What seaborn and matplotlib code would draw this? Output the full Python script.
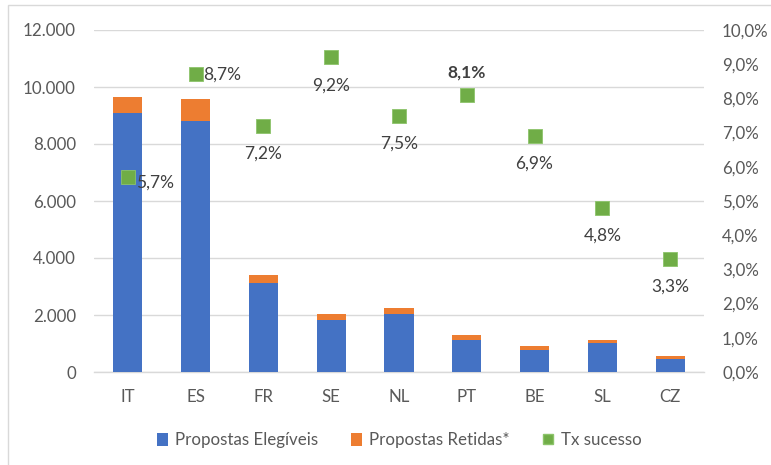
import matplotlib
matplotlib.use("Agg")
import matplotlib.pyplot as plt
import matplotlib.ticker as mticker
from matplotlib.patches import Patch, Rectangle
from matplotlib.lines import Line2D
import seaborn as sns
import pandas as pd

# Data
paises = ["IT", "ES", "FR", "SE", "NL", "PT", "BE", "SL", "CZ"]
elegiveis = [9080, 8800, 3130, 1830, 2035, 1135, 785, 1020, 445]
retidas = [560, 780, 260, 205, 220, 165, 125, 105, 125]
tx_sucesso = [5.7, 8.7, 7.2, 9.2, 7.5, 8.1, 6.9, 4.8, 3.3]
pos_rotulo = ["right", "right", "below", "below", "below", "above", "below", "below", "below"]

AZUL = "#4472C4"
LARANJA = "#ED7D31"
VERDE = "#70AD47"
TEXTO = "#595959"
GRELHA = "#D9D9D9"

sns.set_theme(style="white")
plt.rcParams["font.family"] = ["Lato", "DejaVu Sans"]

df = pd.DataFrame({
    "pais": paises,
    "elegiveis": elegiveis,
    "total": [e + r for e, r in zip(elegiveis, retidas)],
    "tx": tx_sucesso,
})

fig = plt.figure(figsize=(7.71, 4.65), dpi=100)
ax = fig.add_axes([94 / 771, 93 / 465, 610 / 771, 342 / 465])

# Stacked bars: total (orange) behind, eligible (blue) in front
sns.barplot(data=df, x="pais", y="total", color=LARANJA, saturation=1,
            width=0.43, linewidth=0, ax=ax, zorder=2)
sns.barplot(data=df, x="pais", y="elegiveis", color=AZUL, saturation=1,
            width=0.43, linewidth=0, ax=ax, zorder=3)

ax.set_ylim(0, 12000)
ax.set_yticks(range(0, 12001, 2000))
ax.yaxis.set_major_formatter(
    mticker.FuncFormatter(lambda v, p: f"{int(v):,}".replace(",", ".")))
ax.set_xlim(-0.5, len(paises) - 0.5)
ax.set_xlabel("")
ax.set_ylabel("")
ax.grid(axis="y", color=GRELHA, linewidth=1.0, zorder=0)
ax.set_axisbelow(True)
for s in ["top", "right", "left"]:
    ax.spines[s].set_visible(False)
ax.spines["bottom"].set_color(GRELHA)
ax.spines["bottom"].set_linewidth(1.0)
ax.tick_params(axis="both", length=0, colors=TEXTO, labelsize=12.2)
ax.tick_params(axis="x", pad=12)
ax.tick_params(axis="y", pad=13)

# Success rate on secondary axis
ax2 = ax.twinx()
sns.scatterplot(data=df, x="pais", y="tx", marker="s", s=90, color=VERDE,
                edgecolor="#8CC46A", linewidth=0.6, ax=ax2, zorder=5, legend=False)
ax2.set_ylim(0, 10)
ax2.set_yticks(range(0, 11))
ax2.yaxis.set_major_formatter(
    mticker.FuncFormatter(lambda v, p: f"{v:.1f}%".replace(".", ",")))
ax2.set_ylabel("")
for s in ax2.spines.values():
    s.set_visible(False)
ax2.tick_params(axis="y", length=0, colors=TEXTO, labelsize=12.2, pad=13)

offsets = {
    "right": ((5.5, 0), "left", "center"),
    "below": ((0, -20), "center", "center"),
    "above": ((0, 16.5), "center", "center"),
}
for i, (v, pos) in enumerate(zip(tx_sucesso, pos_rotulo)):
    (dx, dy), ha, va = offsets[pos]
    if i == 0:
        dy = -4
    ax2.annotate(f"{v:.1f}%".replace(".", ","), (i, v), xytext=(dx, dy),
                 textcoords="offset points", ha=ha, va=va, fontsize=12.5,
                 color="#404040", fontweight="bold" if pos == "above" else "normal",
                 zorder=6)

# Legend
handles = [
    Patch(facecolor=AZUL, edgecolor="none", label="Propostas Elegíveis"),
    Patch(facecolor=LARANJA, edgecolor="none", label="Propostas Retidas*"),
    Line2D([], [], marker="s", linestyle="none", markersize=6.5, color=VERDE,
           markeredgecolor="#8CC46A", label="Tx sucesso"),
]
leg = fig.legend(handles=handles, loc="center", bbox_to_anchor=(399 / 771, 1 - 440 / 465),
                 ncol=3, frameon=False, fontsize=12.2, handlelength=0.7,
                 handleheight=0.8, handletextpad=0.4, columnspacing=1.9)
for t in leg.get_texts():
    t.set_color(TEXTO)

# Chart area border
fig.patches.append(Rectangle((8 / 771, -0.05), 1.2, 460 / 465 + 0.05,
                             transform=fig.transFigure, fill=False,
                             edgecolor=GRELHA, linewidth=1, zorder=-1))

fig.savefig("out.png", dpi=100)
